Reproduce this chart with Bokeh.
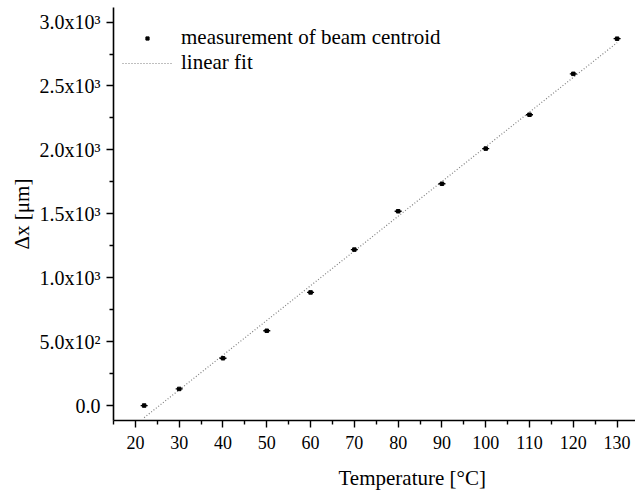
import numpy as np
from bokeh.plotting import figure
from bokeh.models import FixedTicker, Range1d, Legend, LegendItem, ColumnDataSource, Title
from bokeh.embed import file_html
from bokeh.resources import INLINE

# ---- data ----
temperature = [22, 30, 40, 50, 60, 70, 80, 90, 100, 110, 120, 130]
delta_x = [0, 130, 370, 585, 885, 1220, 1520, 1735, 2010, 2275, 2595, 2870]
temp_err = [0.8, 0.8, 0.8, 0.8, 0.8, 0.8, 0.8, 0.8, 0.8, 0.8, 0.8, 0.8]

x_ticks = [20, 30, 40, 50, 60, 70, 80, 90, 100, 110, 120, 130]
x_minor = [15, 25, 35, 45, 55, 65, 75, 85, 95, 105, 115, 125, 135]
y_ticks = [0, 500, 1000, 1500, 2000, 2500, 3000]
y_minor = [250, 750, 1250, 1750, 2250, 2750]
y_tick_labels = ["0.0", "5.0x10\u00b2", "1.0x10\u00b3", "1.5x10\u00b3",
                 "2.0x10\u00b3", "2.5x10\u00b3", "3.0x10\u00b3"]

series_label = "measurement of beam centroid"
fit_label = "linear fit"
x_title = "Temperature [\u00b0C]"
y_title = "\u0394x [\u03bcm]"

FONT = "Liberation Serif"

# ---- figure ----
p = figure(width=635, height=493, output_backend="svg", toolbar_location=None,
           x_range=Range1d(15, 134.2), y_range=Range1d(-117, 3114),
           min_border_left=113, min_border_top=7, min_border_right=0,
           min_border_bottom=0)
p.outline_line_color = None
p.xgrid.visible = False
p.ygrid.visible = False
p.background_fill_color = "white"
p.border_fill_color = "white"

src = ColumnDataSource(dict(
    x=temperature, y=delta_x,
    x0=[t - e for t, e in zip(temperature, temp_err)],
    x1=[t + e for t, e in zip(temperature, temp_err)],
))

# linear fit from data
coef = np.polyfit(temperature, delta_x, 1)
fit_x = [min(temperature), max(temperature)]
fit_y = [coef[0] * v + coef[1] for v in fit_x]

fit_r = p.line(fit_x, fit_y, line_color="#808080", line_width=1.2, line_dash="1 2")
p.segment(x0="x0", x1="x1", y0="y", y1="y", source=src, line_color="black", line_width=1.3)
pts = p.scatter("x", "y", source=src, marker="square", size=3.5,
                fill_color="black", line_color="black")

# axes
for ax in (p.xaxis[0], p.yaxis[0]):
    ax.axis_line_width = 1.6
    ax.axis_line_color = "black"
    ax.major_tick_in = 0
    ax.major_tick_out = 7
    ax.minor_tick_in = 0
    ax.minor_tick_out = 4
    ax.major_tick_line_width = 1.4
    ax.minor_tick_line_width = 1.4
    ax.major_label_text_font = FONT
    ax.major_label_text_color = "black"
    ax.axis_label_text_font = FONT
    ax.axis_label_text_font_size = "21px"
    ax.axis_label_text_font_style = "normal"
    ax.axis_label_text_color = "black"

p.xaxis[0].major_label_text_font_size = "18px"
p.yaxis[0].major_label_text_font_size = "20px"
p.xaxis[0].ticker = FixedTicker(ticks=x_ticks, minor_ticks=x_minor)
p.yaxis[0].ticker = FixedTicker(ticks=y_ticks, minor_ticks=y_minor)
p.yaxis[0].major_label_overrides = {t: l for t, l in zip(y_ticks, y_tick_labels)}
p.yaxis[0].axis_label = y_title
p.xaxis[0].major_label_standoff = 8
p.yaxis[0].major_label_standoff = 6
p.yaxis[0].axis_label_standoff = 3

# gap between tick labels and the x-axis title
gap = Title(text=" ", text_font_size="1px", standoff=6)
p.add_layout(gap, "below")
# x-axis title, shifted right as in the reference
xt = Title(text=x_title, align="left", offset=225, standoff=7,
           text_font=FONT, text_font_size="21px", text_font_style="normal",
           text_color="black")
p.add_layout(xt, "below")

legend = Legend(items=[LegendItem(label=series_label, renderers=[pts]),
                       LegendItem(label=fit_label, renderers=[fit_r])],
                location=(9, 345), padding=0, margin=0, spacing=0,
                glyph_width=50, glyph_height=8, label_height=24,
                label_standoff=9, label_text_font=FONT,
                label_text_font_size="21px", label_text_color="black",
                border_line_color=None, background_fill_color=None)
p.add_layout(legend, "center")

open("out.html", "w").write(file_html(p, INLINE))
